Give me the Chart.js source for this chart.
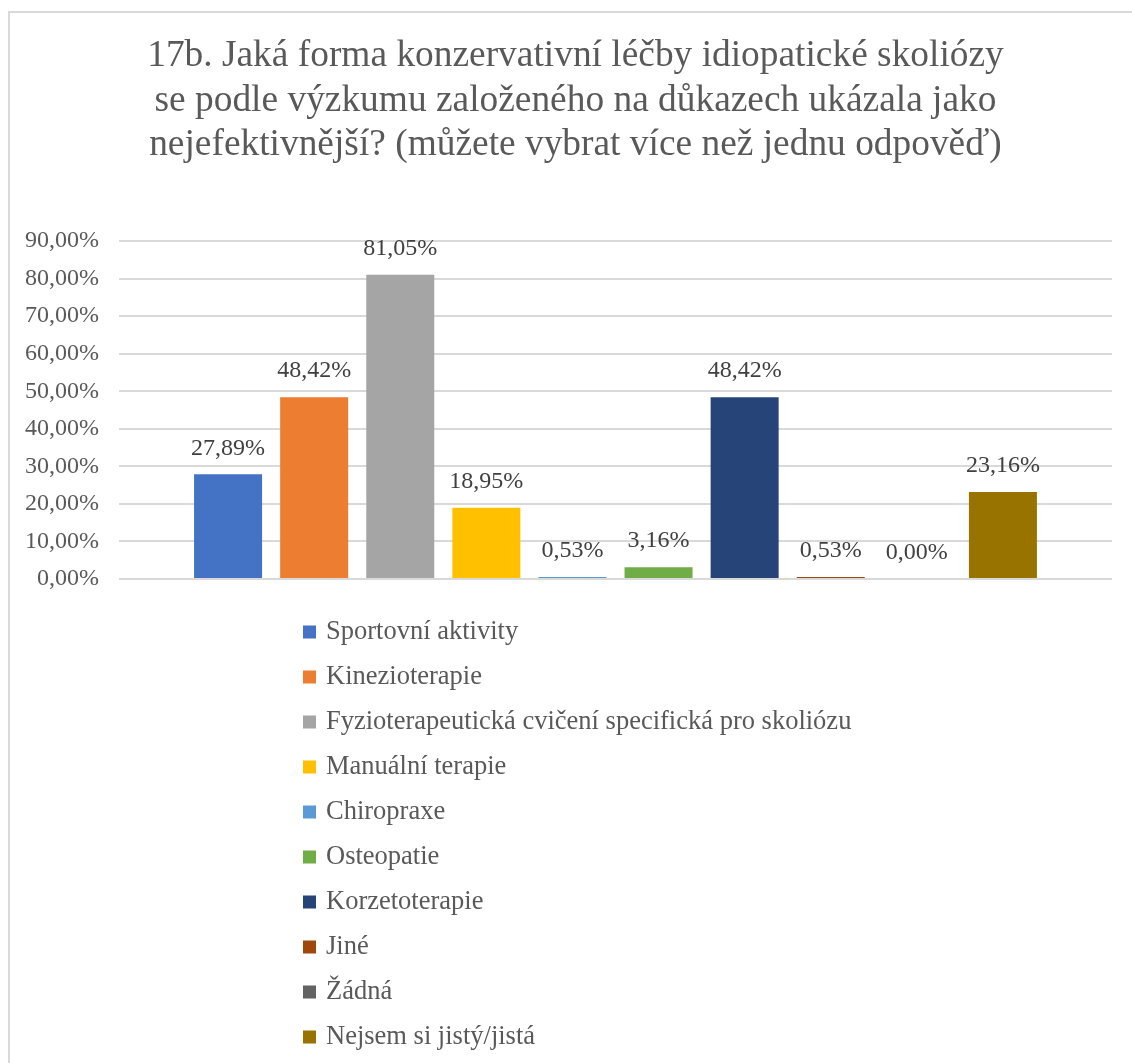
<!DOCTYPE html>
<html lang="cs">
<head>
<meta charset="utf-8">
<title>17b. Konzervativní léčba idiopatické skoliózy</title>
<script src="https://cdn.jsdelivr.net/npm/chart.js@4.4.1/dist/chart.umd.min.js"></script>
<style>
    html, body {
        margin: 0;
        padding: 0;
        background: #ffffff;
        overflow: hidden;
    }

    #frame {
        position: absolute;
        left: 8px;
        top: 11px;
        width: 1200px;
        height: 1200px;
        border-left: 2px solid #d9d9d9;
        border-top: 2px solid #d9d9d9;
    }

    #chart-container {
        position: absolute;
        left: 0;
        top: 0;
        width: 1132px;
        height: 1063px;
    }
</style>
</head>
<body>
<div id="frame"></div>
<div id="chart-container">
    <canvas id="chart"></canvas>
</div>

<script>
const titleLines = [
    "17b. Jaká forma konzervativní léčby idiopatické skoliózy",
    "se podle výzkumu založeného na důkazech ukázala jako",
    "nejefektivnější? (můžete vybrat více než jednu odpověď)"
];

const categories = [""];

const answers = [
    "Sportovní aktivity",
    "Kinezioterapie",
    "Fyzioterapeutická cvičení specifická pro skoliózu",
    "Manuální terapie",
    "Chiropraxe",
    "Osteopatie",
    "Korzetoterapie",
    "Jiné",
    "Žádná",
    "Nejsem si jistý/jistá"
];

const shares = [27.89, 48.42, 81.05, 18.95, 0.53, 3.16, 48.42, 0.53, 0.00, 23.16];

const colors = [
    "#4472c4", "#ed7d31", "#a5a5a5", "#ffc000", "#5b9bd5",
    "#70ad47", "#264478", "#9e480e", "#636363", "#997300"
];

const yTicks = [0, 10, 20, 30, 40, 50, 60, 70, 80, 90];

const FONT_FAMILY = "'Liberation Serif', 'Times New Roman', serif";
const TEXT_COLOR  = "#595959";
const LABEL_COLOR = "#404040";
const GRID_COLOR  = "#d9d9d9";

/**
 * Formats a percentage the Czech way, e.g. 27,89%.
 *
 * @param {number} value
 * @returns {string}
 */
function formatPercent(value)
{
    return value.toFixed(2).replace(".", ",") + "%";
}

// Moves the title block a little to the right, so it sits over the whole frame
const titleOffset = {
    id: "titleOffset",
    afterLayout(chart, args, options)
    {
        if (chart.titleBlock) {
            chart.titleBlock.left  += options.shift;
            chart.titleBlock.right += options.shift;
        }
    }
};

// Value labels above each bar
const valueLabels = {
    id: "valueLabels",
    afterDatasetsDraw(chart)
    {
        const ctx = chart.ctx;

        ctx.save();
        ctx.font         = "24px " + FONT_FAMILY;
        ctx.fillStyle    = LABEL_COLOR;
        ctx.textAlign    = "center";
        ctx.textBaseline = "middle";

        chart.data.datasets.forEach((dataset, i) => {
            const bar = chart.getDatasetMeta(i).data[0];

            ctx.fillText(formatPercent(dataset.data[0]), bar.x, bar.y - 26);
        });

        ctx.restore();
    }
};

// Vertical legend list under the plot, one answer per row
const listLegend = {
    id: "listLegend",
    afterDraw(chart, args, options)
    {
        const ctx  = chart.ctx;
        const top  = chart.chartArea.bottom + options.offset;

        ctx.save();
        ctx.font         = options.fontSize + "px " + FONT_FAMILY;
        ctx.textAlign    = "left";
        ctx.textBaseline = "middle";

        chart.data.datasets.forEach((dataset, i) => {
            const y = top + i * options.rowHeight;

            ctx.fillStyle = dataset.backgroundColor;
            ctx.fillRect(options.left, y - options.box / 2, options.box, options.box);

            ctx.fillStyle = TEXT_COLOR;
            ctx.fillText(dataset.label, options.left + options.box + options.gap, y);
        });

        ctx.restore();
    }
};

const datasets = answers.map((answer, i) => ({
    label: answer,
    data: [shares[i]],
    backgroundColor: colors[i],
    borderWidth: 0,
    categoryPercentage: 0.867,
    barPercentage: 0.79
}));

new Chart(document.getElementById("chart"), {
    type: "bar",
    data: {
        labels: categories,
        datasets: datasets
    },
    options: {
        responsive: true,
        maintainAspectRatio: false,
        animation: false,
        layout: {
            padding: { left: 5, right: 20, top: 0, bottom: 484 }
        },
        scales: {
            x: {
                display: false
            },
            y: {
                min: 0,
                max: 90,
                afterBuildTicks: (axis) => {
                    axis.ticks = yTicks.map((value) => ({ value: value }));
                },
                border: { display: false },
                grid: {
                    color: GRID_COLOR,
                    lineWidth: 2,
                    drawTicks: false
                },
                ticks: {
                    padding: 20,
                    color: TEXT_COLOR,
                    font: { family: FONT_FAMILY, size: 24 },
                    callback: (value) => formatPercent(value)
                }
            }
        },
        plugins: {
            title: {
                display: true,
                text: titleLines,
                color: TEXT_COLOR,
                font: { family: FONT_FAMILY, size: 37.4, weight: "normal", lineHeight: 1.19 },
                padding: { top: 34, bottom: 73.5 }
            },
            titleOffset: { shift: 17 },
            legend: { display: false },
            tooltip: { enabled: false },
            listLegend: {
                left: 303,
                box: 13,
                gap: 10,
                offset: 53,
                rowHeight: 45,
                fontSize: 26.5
            }
        }
    },
    plugins: [titleOffset, valueLabels, listLegend]
});
</script>
</body>
</html>
